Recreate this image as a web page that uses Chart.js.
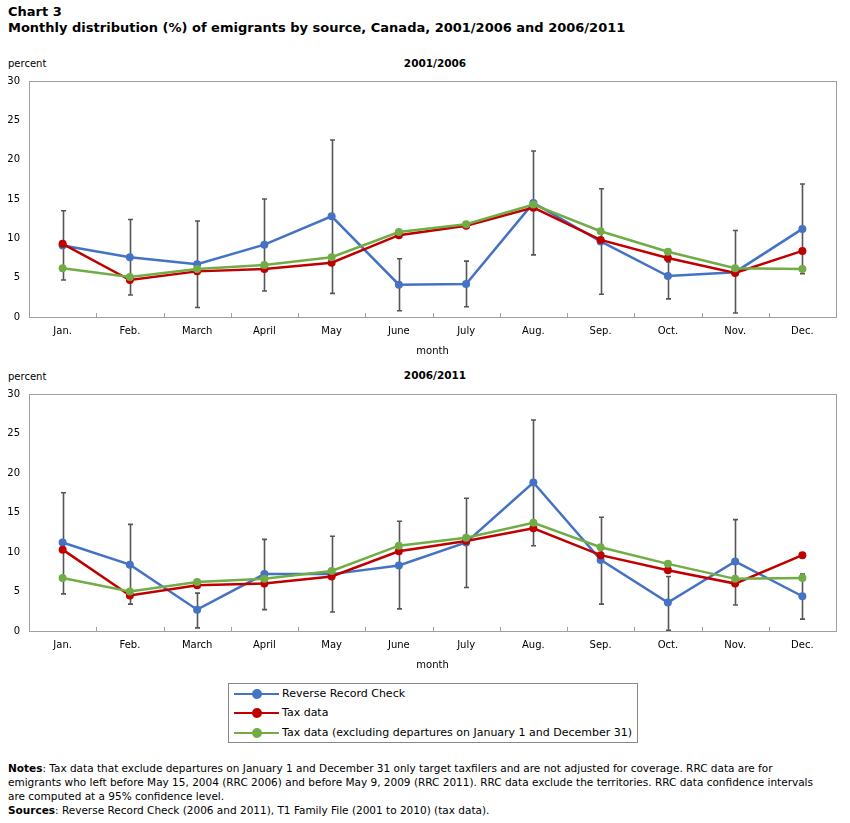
<!DOCTYPE html>
<html>
<head>
<meta charset="utf-8">
<script src="https://cdn.jsdelivr.net/npm/chart.js@4/dist/chart.umd.min.js"></script>
<style>
body{margin:0;background:#fff;width:850px;height:823px;position:relative;font-family:"DejaVu Sans",Verdana,sans-serif;color:#000;overflow:hidden}
.t{position:absolute;white-space:nowrap;line-height:14px}
.box{position:absolute}
#legend{position:absolute;left:228px;top:683px;width:408px;height:58px;border:1px solid #888;font-size:11px}
.row{position:absolute;left:5px;height:14px;line-height:14px;white-space:nowrap}
.sym{display:inline-block;position:relative;width:45px;height:14px;vertical-align:top;margin-right:3px}
.sym i{position:absolute;left:0;top:6px;width:45px;height:2px}
.sym b{position:absolute;left:18px;top:2px;width:10px;height:10px;border-radius:50%}
#notes{position:absolute;left:8px;top:762px;font-family:"DejaVu Sans",sans-serif;font-size:10.5px;line-height:13.9px;white-space:nowrap}
</style>
</head>
<body>
<div class="t" style="left:8px;top:5px;font-size:13px;font-weight:bold">Chart 3</div>
<div class="t" style="left:8px;top:21px;font-size:13px;font-weight:bold">Monthly distribution (%) of emigrants by source, Canada, 2001/2006 and 2006/2011</div>

<div class="t" style="left:8px;top:57px;font-size:10px">percent</div>
<div class="t" style="left:335px;width:200px;text-align:center;top:56px;font-size:10.5px;font-weight:bold">2001/2006</div>
<div class="box" style="left:0;top:55px;width:850px;height:305px"><canvas id="c1"></canvas></div>

<div class="t" style="left:8px;top:370px;font-size:10px">percent</div>
<div class="t" style="left:335px;width:200px;text-align:center;top:368px;font-size:10.5px;font-weight:bold">2006/2011</div>
<div class="box" style="left:0;top:368px;width:850px;height:306px"><canvas id="c2"></canvas></div>

<div id="legend">
  <div class="row" style="top:3px"><span class="sym"><i style="background:#4472c4"></i><b style="background:#4472c4"></b></span>Reverse Record Check</div>
  <div class="row" style="top:22px"><span class="sym"><i style="background:#c00000"></i><b style="background:#c00000"></b></span>Tax data</div>
  <div class="row" style="top:42px"><span class="sym"><i style="background:#70ad47"></i><b style="background:#70ad47"></b></span>Tax data (excluding departures on January 1 and December 31)</div>
</div>

<div id="notes">
<b>Notes</b>: Tax data that exclude departures on January 1 and December 31 only target taxfilers and are not adjusted for coverage. RRC data are for<br>
emigrants who left before May 15, 2004 (RRC 2006) and before May 9, 2009 (RRC 2011). RRC data exclude the territories. RRC data confidence intervals<br>
are computed at a 95% confidence level.<br>
<b>Sources</b>: Reverse Record Check (2006 and 2011), T1 Family File (2001 to 2010) (tax data).
</div>

<script>
const months = ['Jan.','Feb.','March','April','May','June','July','Aug.','Sep.','Oct.','Nov.','Dec.'];
const seriesNames = ['Reverse Record Check','Tax data','Tax data (excluding departures on January 1 and December 31)'];

// 2001/2006
const rrc0106      = [9.1, 7.6, 6.7, 9.2, 12.8, 4.1, 4.2, 14.5, 9.6, 5.2, 5.7, 11.2];
const tax0106      = [9.3, 4.7, 5.8, 6.1, 6.9, 10.4, 11.6, 13.9, 9.8, 7.5, 5.6, 8.4];
const taxExcl0106  = [6.2, 5.1, 6.1, 6.6, 7.6, 10.8, 11.8, 14.3, 10.9, 8.3, 6.2, 6.1];
const rrcLow0106   = [4.7, 2.8, 1.2, 3.3, 3.0, 0.8, 1.3, 7.9, 2.9, 2.3, 0.5, 5.5];
const rrcHigh0106  = [13.5, 12.4, 12.2, 15.0, 22.5, 7.4, 7.1, 21.1, 16.3, 7.0, 11.0, 16.9];

// 2006/2011
const rrc0611      = [11.2, 8.4, 2.7, 7.2, 7.2, 8.3, 11.2, 18.8, 9.0, 3.6, 8.8, 4.4];
const tax0611      = [10.3, 4.5, 5.8, 6.0, 6.9, 10.1, 11.4, 13.0, 9.6, 7.7, 6.0, 9.6];
const taxExcl0611  = [6.7, 5.0, 6.2, 6.6, 7.6, 10.8, 11.8, 13.7, 10.6, 8.5, 6.6, 6.7];
const rrcLow0611   = [4.7, 3.4, 0.4, 2.7, 2.4, 2.8, 5.5, 10.8, 3.4, 0.1, 3.3, 1.5];
const rrcHigh0611  = [17.5, 13.5, 4.8, 11.6, 12.0, 13.9, 16.8, 26.7, 14.4, 6.9, 14.1, 7.2];

const yTicks = [0, 5, 10, 15, 20, 25, 30];
const colors = ['#4472c4', '#c00000', '#70ad47'];

const framePlugin = {
  id: 'frame',
  beforeDatasetsDraw(chart, args, opts) {
    const {ctx, chartArea: a, scales: {x, y}} = chart;
    ctx.save();
    ctx.strokeStyle = '#a0a0a0';
    ctx.lineWidth = 1;
    ctx.strokeRect(Math.round(a.left) + 0.5, Math.round(a.top) + 0.5, Math.round(a.width), Math.round(a.height));
    ctx.beginPath();
    for (let i = 1; i < months.length; i++) {
      const bx = Math.round((x.getPixelForValue(i - 1) + x.getPixelForValue(i)) / 2) + 0.5;
      ctx.moveTo(bx, a.bottom);
      ctx.lineTo(bx, a.bottom - 4);
    }
    ctx.stroke();
    // confidence intervals of RRC
    ctx.strokeStyle = '#555';
    ctx.lineWidth = 1.6;
    ctx.beginPath();
    opts.low.forEach((lo, i) => {
      const px = Math.round(x.getPixelForValue(i)) + 0.5;
      const y1 = y.getPixelForValue(lo), y2 = y.getPixelForValue(opts.high[i]);
      ctx.moveTo(px, y1); ctx.lineTo(px, y2);
      ctx.moveTo(px - 2.5, y1); ctx.lineTo(px + 2.5, y1);
      ctx.moveTo(px - 2.5, y2); ctx.lineTo(px + 2.5, y2);
    });
    ctx.stroke();
    ctx.restore();
  }
};

function makeChart(id, rrc, tax, taxExcl, low, high) {
  const values = [rrc, tax, taxExcl];
  return new Chart(document.getElementById(id), {
    type: 'line',
    data: {
      labels: months,
      datasets: values.map((v, k) => ({
        label: seriesNames[k],
        data: v,
        borderColor: colors[k],
        backgroundColor: colors[k],
        borderWidth: 2.5,
        pointRadius: 4,
        pointBorderWidth: 0,
        pointHoverRadius: 4,
        tension: 0,
        order: 2 - k
      }))
    },
    options: {
      responsive: true,
      maintainAspectRatio: false,
      animation: false,
      layout: {padding: {top: 26, right: 14, left: 0, bottom: 0}},
      plugins: {
        legend: {display: false},
        tooltip: {enabled: false},
        frame: {low: low, high: high}
      },
      scales: {
        x: {
          offset: true,
          grid: {display: false, drawTicks: false},
          border: {display: false},
          ticks: {color: '#000', font: {family: 'DejaVu Sans', size: 10}, padding: 8, maxRotation: 0, autoSkip: false},
          title: {display: true, text: 'month', color: '#000', font: {family: 'DejaVu Sans', size: 10}, padding: {top: 0, bottom: 3}},
          afterFit(s) { s.height = 43; }
        },
        y: {
          min: 0, max: 30,
          grid: {display: false, drawTicks: false},
          border: {display: false},
          afterBuildTicks(s) { s.ticks = yTicks.map(v => ({value: v})); },
          ticks: {color: '#000', font: {family: 'DejaVu Sans', size: 10}, padding: 9},
          afterFit(s) { s.width = 29; }
        }
      }
    },
    plugins: [framePlugin]
  });
}

makeChart('c1', rrc0106, tax0106, taxExcl0106, rrcLow0106, rrcHigh0106);
makeChart('c2', rrc0611, tax0611, taxExcl0611, rrcLow0611, rrcHigh0611);
</script>
</body>
</html>
